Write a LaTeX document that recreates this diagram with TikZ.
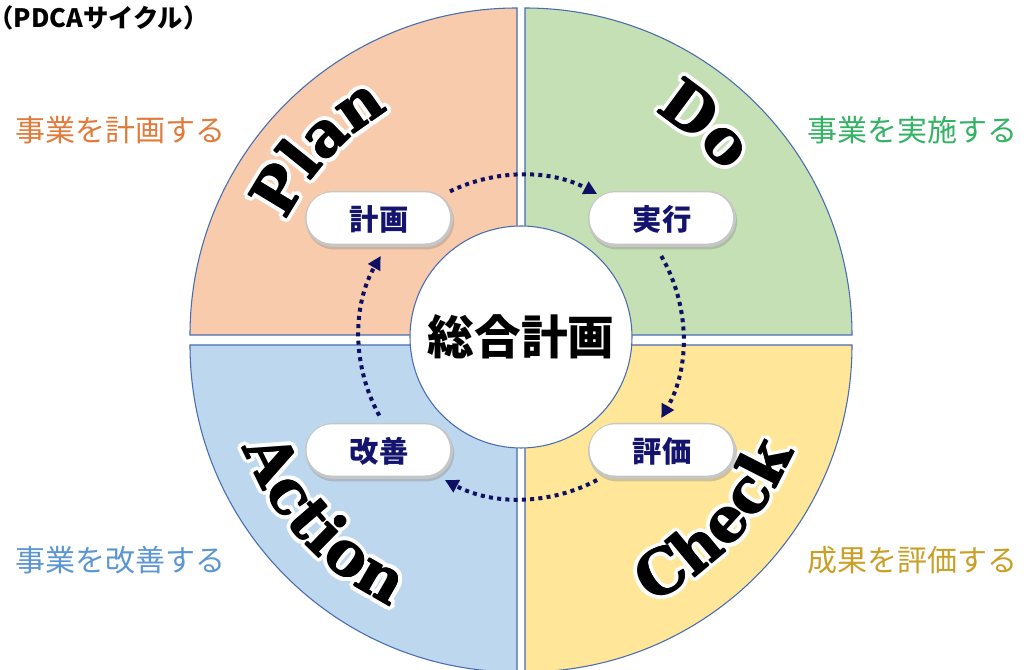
\documentclass[tikz,border=0pt]{standalone}
\usepackage{fontspec}
\setmainfont{Noto Sans CJK JP}
\newfontfamily\cjk{Noto Sans CJK JP}
\newfontfamily\coop{DejaVu Serif}
\usetikzlibrary{decorations.text,arrows.meta,calc,shadows}

\definecolor{planfill}{RGB}{248,203,173}
\definecolor{dofill}{RGB}{197,224,180}
\definecolor{checkfill}{RGB}{255,230,153}
\definecolor{actfill}{RGB}{189,215,238}
\definecolor{qborder}{RGB}{72,108,176}
\definecolor{navy}{RGB}{20,20,110}
\definecolor{ringc}{RGB}{15,15,100}
\definecolor{lorange}{RGB}{225,122,58}
\definecolor{lgreen}{RGB}{52,178,100}
\definecolor{lblue}{RGB}{91,150,210}
\definecolor{lgold}{RGB}{200,160,40}

\newcommand\bigword{\coop\bfseries\fontsize{46}{50}\selectfont}
% #1 text, #2 baseline radius, #3 start angle, #4 end angle
\newcommand\glowword[4]{%
  \foreach \g in {0,30,...,330}{
    \path[decorate, decoration={text along path, text={|\bigword\color{white}|#1}, text align=center}]
      ([shift={(#3:#2)}, shift={(\g:4.5)}]521,333) arc[start angle=#3, end angle=#4, radius=#2];
  }
  \foreach \g in {15,45,...,345}{
    \path[decorate, decoration={text along path, text={|\bigword\color{white}|#1}, text align=center}]
      ([shift={(#3:#2)}, shift={(\g:2.5)}]521,333) arc[start angle=#3, end angle=#4, radius=#2];
  }
  \foreach \g in {0,90,180,270}{
    \path[decorate, decoration={text along path, text={|\bigword\color{black}|#1}, text align=center}]
      ([shift={(#3:#2)}, shift={(\g:0.6)}]521,333) arc[start angle=#3, end angle=#4, radius=#2];
  }
}

\begin{document}
\begin{tikzpicture}[x=0.75pt,y=0.75pt,
  quad/.style={draw=qborder, line width=0.8pt},
  pill/.style={rectangle, rounded corners=21pt, minimum width=111pt, minimum height=42pt,
    fill=gray!45, drop shadow={shadow xshift=0.8pt, shadow yshift=-1.8pt, opacity=0.35, fill=gray},
    text=navy, font=\cjk\bfseries\fontsize{22}{26}\selectfont, inner sep=0pt,
    path picture={\fill[white, rounded corners=19pt]
      ([shift={(1.2pt,2.6pt)}]path picture bounding box.south west) rectangle
      ([shift={(-2.2pt,-1pt)}]path picture bounding box.north east);}},
  ring/.style={draw=ringc, line width=3pt, dash pattern=on 3pt off 3.2pt,
    -{Triangle[length=10pt,width=10pt]}},
  side/.style={font=\cjk\fontsize{22.5}{26}\selectfont}
]
\useasboundingbox (0,0) rectangle (1026,670);
\coordinate (C) at (521,333);

% quadrants
\path[quad, fill=planfill] (517,335) -- ++(180:327) arc[start angle=180, end angle=90, radius=327] -- cycle;
\path[quad, fill=dofill] (525,335) -- ++(0:327) arc[start angle=0, end angle=90, radius=327] -- cycle;
\path[quad, fill=actfill] (517,325) -- ++(180:327) arc[start angle=180, end angle=270, radius=327] -- cycle;
\path[quad, fill=checkfill] (525,325) -- ++(0:327) arc[start angle=0, end angle=-90, radius=327] -- cycle;

% centre
\node[circle, draw=qborder, line width=0.8pt, fill=white, minimum size=166.5pt, inner sep=0pt,
  font=\cjk\bfseries\fontsize{35}{40}\selectfont] (core) at (C) {総合計画};

% big words
\glowword{Plan}{262}{187}{87}
\glowword{Do}{262}{99}{-1}
\glowword{Check}{296}{-93.5}{6.5}
\glowword{Action}{299}{173}{273}

% pills
\node[pill] (keikaku) at (379,451) {計画};
\node[pill] (jikkou) at (662,451) {実行};
\node[pill] (hyouka) at (662,219) {評価};
\node[pill] (kaizen) at (379,219) {改善};

% dotted cycle
\coordinate (r1) at ($(C)+(116:162)$);
\coordinate (r2) at ($(C)+(30:162)$);
\coordinate (r3) at ($(C)+(-62:162)$);
\coordinate (r4) at ($(C)+(209:162)$);
\draw[ring] (r1) arc[start angle=116, end angle=62, radius=162];
\draw[ring] (r2) arc[start angle=30, end angle=-30, radius=162];
\draw[ring] (r3) arc[start angle=-62, end angle=-118, radius=162];
\draw[ring] (r4) arc[start angle=209, end angle=150, radius=162];

% side labels
\node[side, text=lorange] (lplan) at (121,540) {事業を計画する};
\node[side, text=lgreen] (ldo) at (912,540) {事業を実施する};
\node[side, text=lblue] (lact) at (121,110) {事業を改善する};
\node[side, text=lgold] (lcheck) at (912,110) {成果を評価する};

% title
\node[anchor=west, inner sep=0pt, font=\cjk\bfseries\fontsize{19}{22}\selectfont] (title) at (-12,652) {（PDCAサイクル）};
\end{tikzpicture}
\end{document}
